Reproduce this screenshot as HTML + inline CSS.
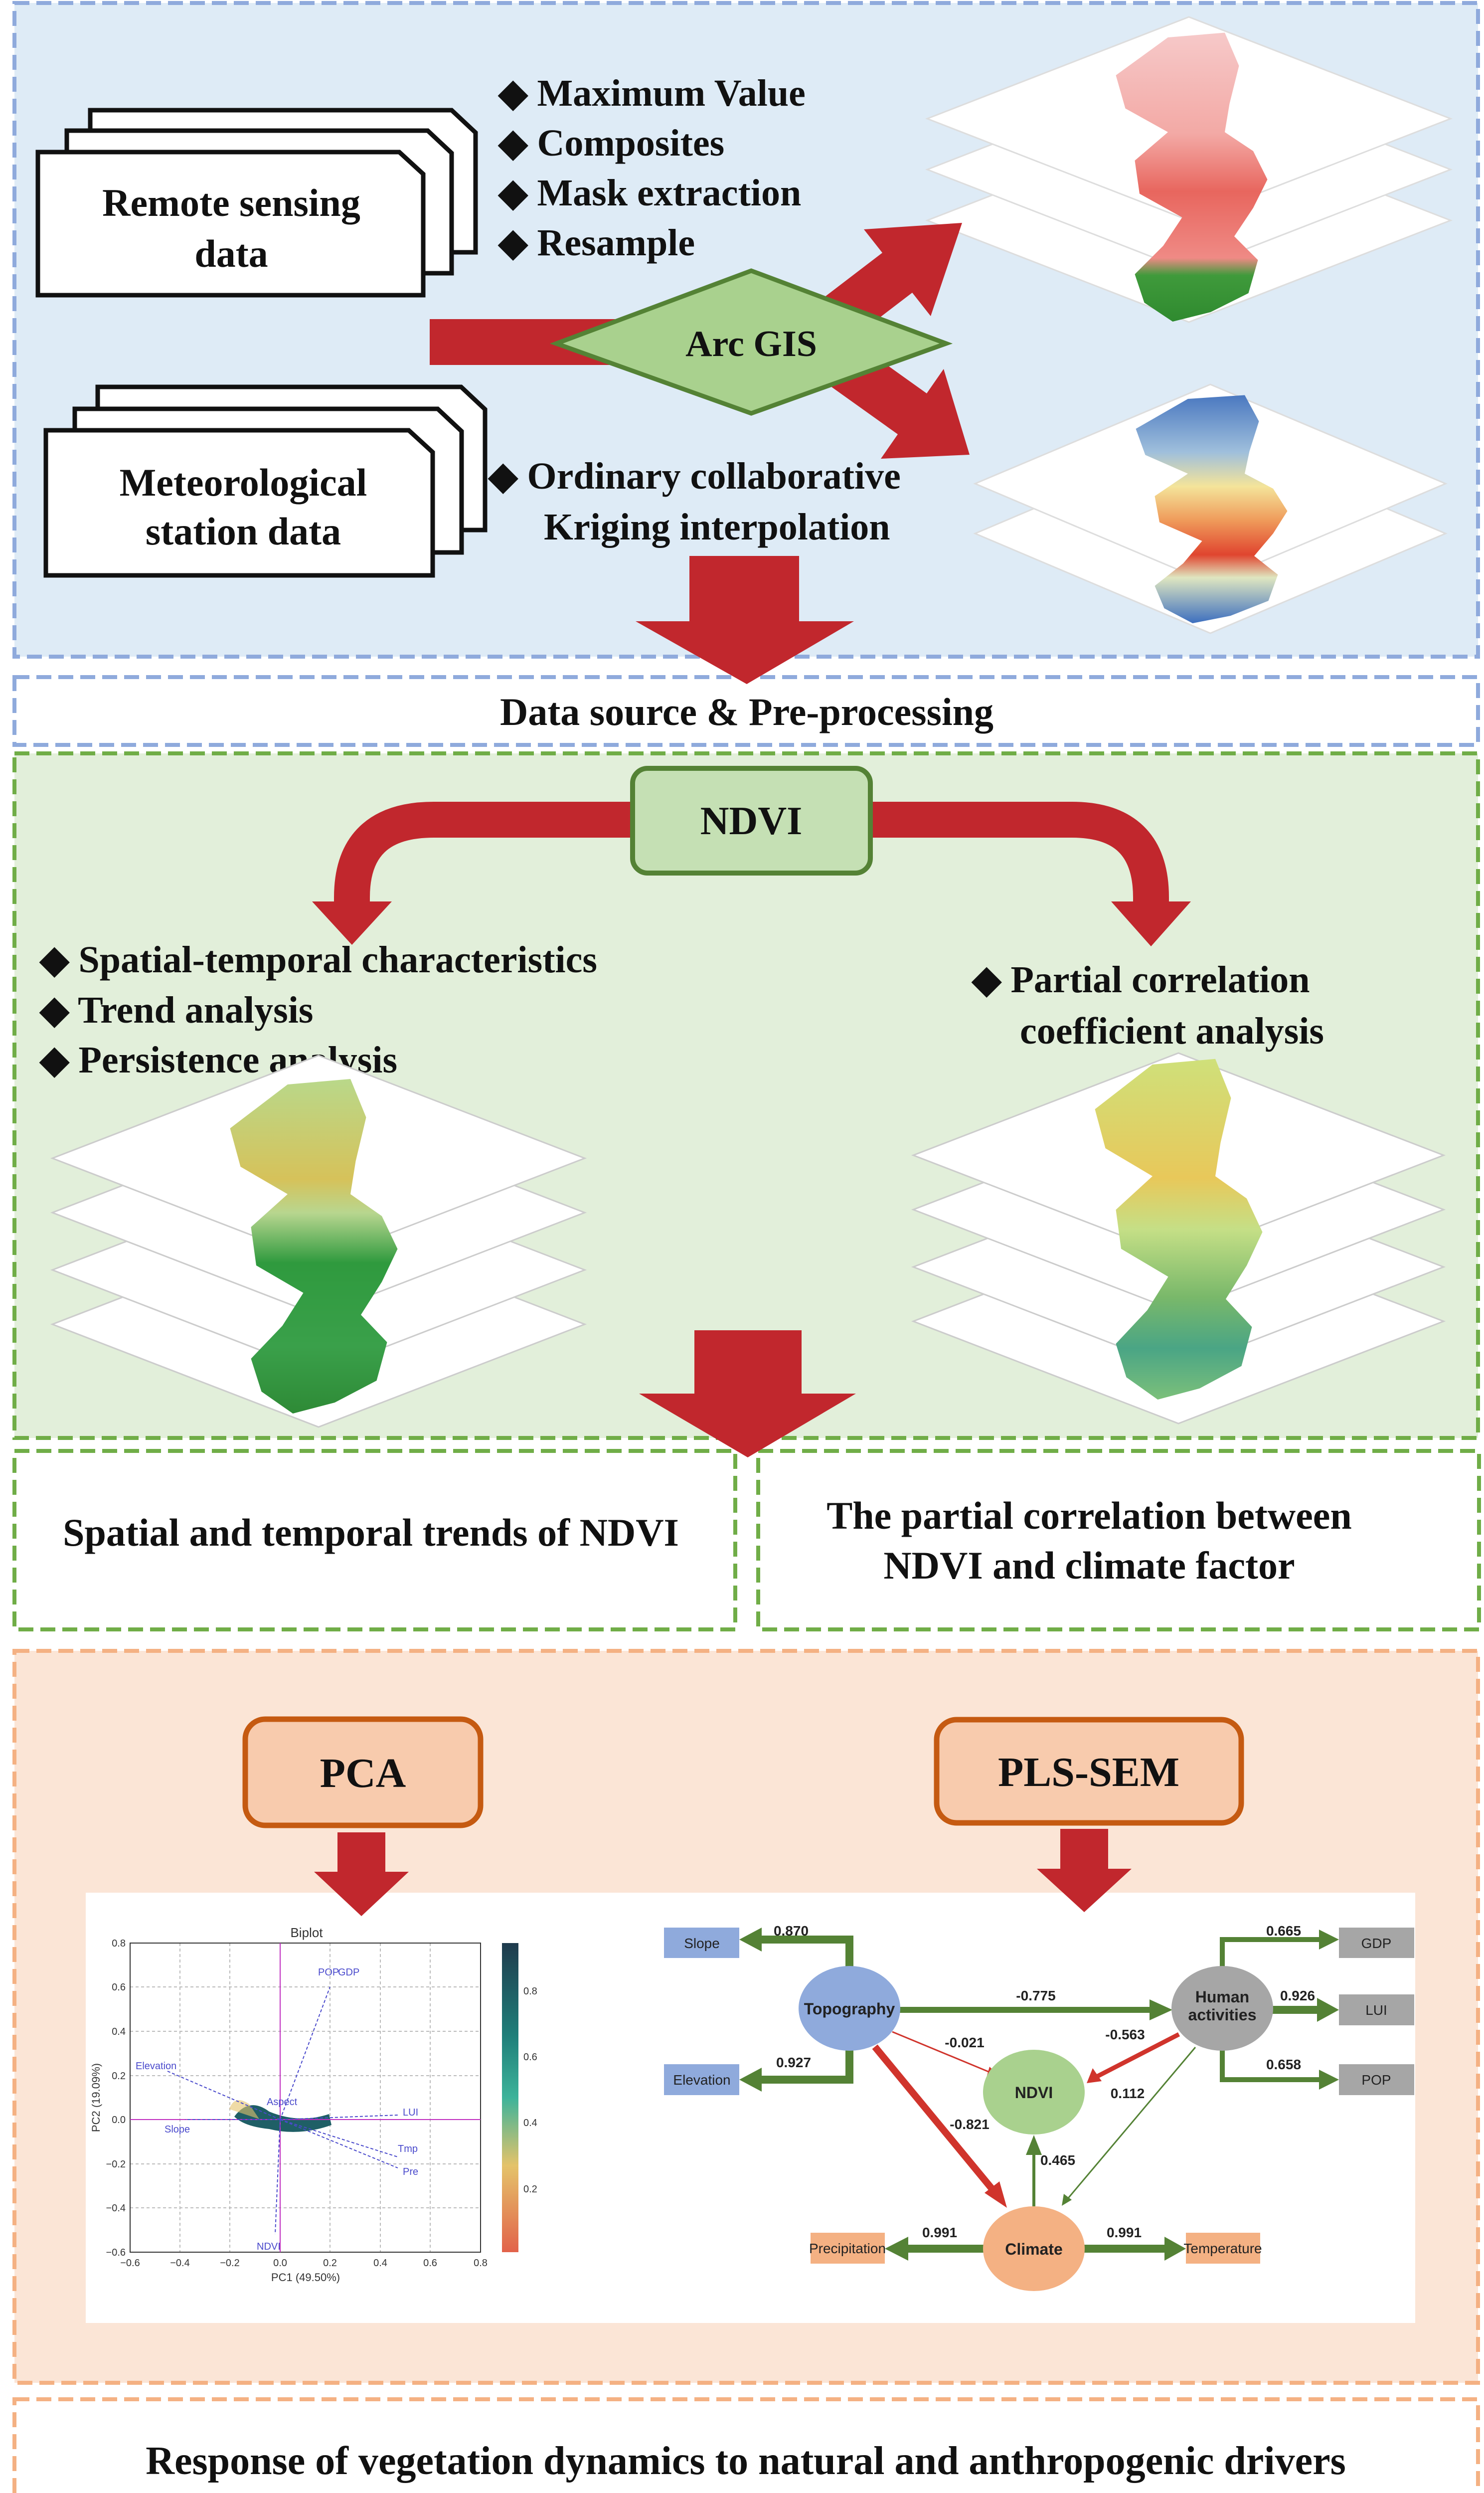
<!DOCTYPE html>
<html><head><meta charset="utf-8">
<style>
html,body{margin:0;padding:0;background:#fff;width:2977px;height:5057px;overflow:hidden;}
svg{display:block;}
.t{font-family:"Liberation Serif",serif;font-weight:bold;fill:#111;}
.s{font-family:"Liberation Sans",sans-serif;}
</style></head>
<body>
<svg width="2977" height="5057" viewBox="0 0 2977 5057" xmlns="http://www.w3.org/2000/svg">
<defs>
<linearGradient id="gPink" x1="0" y1="0" x2="0" y2="1">
<stop offset="0" stop-color="#f6c9c9"/><stop offset="0.35" stop-color="#f3a9a5"/><stop offset="0.55" stop-color="#e8665e"/><stop offset="0.78" stop-color="#ef8a85"/><stop offset="0.84" stop-color="#3f9a3b"/><stop offset="1" stop-color="#2f8a2f"/>
</linearGradient>
<linearGradient id="gTemp" x1="0" y1="0" x2="0" y2="1">
<stop offset="0" stop-color="#4a78c0"/><stop offset="0.25" stop-color="#9fbfdc"/><stop offset="0.4" stop-color="#f4e49a"/><stop offset="0.55" stop-color="#ef9a5a"/><stop offset="0.7" stop-color="#e0452f"/><stop offset="0.8" stop-color="#dfe6c0"/><stop offset="1" stop-color="#3d6fbf"/>
</linearGradient>
<linearGradient id="gVeg" x1="0" y1="0" x2="0" y2="1">
<stop offset="0" stop-color="#b9d88a"/><stop offset="0.3" stop-color="#d6c25a"/><stop offset="0.4" stop-color="#b8d68f"/><stop offset="0.55" stop-color="#2f9a3e"/><stop offset="0.8" stop-color="#3aa04a"/><stop offset="1" stop-color="#2e8a36"/>
</linearGradient>
<linearGradient id="gPcc" x1="0" y1="0" x2="0" y2="1">
<stop offset="0" stop-color="#cfe07a"/><stop offset="0.35" stop-color="#e8c85a"/><stop offset="0.5" stop-color="#c5df86"/><stop offset="0.7" stop-color="#79b86a"/><stop offset="0.85" stop-color="#4aa585"/><stop offset="1" stop-color="#7cc07a"/>
</linearGradient>
<linearGradient id="gCb" x1="0" y1="0" x2="0" y2="1">
<stop offset="0" stop-color="#1f3b4d"/><stop offset="0.3" stop-color="#1f7f7a"/><stop offset="0.5" stop-color="#3db39a"/><stop offset="0.72" stop-color="#e4c36a"/><stop offset="1" stop-color="#e2624a"/>
</linearGradient>
<path id="blob" d="M-60,0 L60,-10 L90,60 L70,140 L60,200 L120,240 L150,300 L120,360 L80,420 L130,470 L110,540 L30,580 L-50,600 L-110,560 L-130,500 L-70,440 L-30,380 L-120,330 L-130,260 L-60,200 L-150,150 L-170,80 Z"/>
</defs>

<rect x="29" y="6" width="2936" height="1311" fill="#deebf6" stroke="#8faadc" stroke-width="8" stroke-dasharray="30 14"/>

<g fill="#fff" stroke="#111" stroke-width="9">
<polygon points="181,221 906,221 954,266 954,506 181,506"/>
<polygon points="134,262 858,262 906,307 906,548 134,548"/>
<polygon points="76,305 801,305 849,349 849,592 76,592"/>
<polygon points="196,776 925,776 973,821 973,1063 196,1063"/>
<polygon points="150,820 878,820 926,865 926,1108 150,1108"/>
<polygon points="92,863 820,863 868,907 868,1154 92,1154"/>
</g>
<text class="t" font-size="78" text-anchor="middle" x="464" y="433">Remote sensing</text>
<text class="t" font-size="78" text-anchor="middle" x="464" y="535">data</text>
<text class="t" font-size="78" text-anchor="middle" x="488" y="994">Meteorological</text>
<text class="t" font-size="78" text-anchor="middle" x="488" y="1092">station data</text>

<g class="t" font-size="76">
<text x="1000" y="212">◆ Maximum Value</text>
<text x="1000" y="312">◆ Composites</text>
<text x="1000" y="412">◆ Mask extraction</text>
<text x="1000" y="512">◆ Resample</text>
<text x="980" y="980">◆ Ordinary collaborative</text>
<text x="1091" y="1082">Kriging interpolation</text>
</g>

<g stroke="#ddd" stroke-width="3" fill="#fff">
<polygon points="1860,442 2385,238 2910,442 2385,646"/>
<polygon points="1860,340 2385,136 2910,340 2385,544"/>
<polygon points="1860,238 2385,34 2910,238 2385,442"/>
</g>
<use href="#blob" transform="translate(2400,75) scale(0.95,0.95)" fill="url(#gPink)"/>
<g stroke="#ddd" stroke-width="3" fill="#fff">
<polygon points="1956,1070 2428,870 2900,1070 2428,1270"/>
<polygon points="1956,970 2428,771 2900,970 2428,1170"/>
</g>
<use href="#blob" transform="translate(2440,800) scale(0.95,0.75)" fill="url(#gTemp)"/>

<g fill="#c1272d">
<rect x="862" y="640" width="400" height="92"/>
<polygon points="1630,740 1830,587 1867,634 1930,447 1733,460 1770,507 1570,660"/>
<polygon points="1591,721 1801,871 1767,920 1945,912 1893,740 1859,789 1649,639"/>
</g>
<polygon points="1116,689 1507,543 1898,689 1507,829" fill="#a9d18e" stroke="#548235" stroke-width="9"/>
<text class="t" font-size="74" text-anchor="middle" x="1507" y="714">Arc GIS</text>

<rect x="29" y="1358" width="2936" height="136" fill="#fff" stroke="#8faadc" stroke-width="8" stroke-dasharray="30 14"/>
<text class="t" font-size="78" text-anchor="middle" x="1498" y="1454">Data source &amp;  Pre-processing</text>
<polygon fill="#c1272d" points="1383,1115 1603,1115 1603,1246 1713,1246 1498,1372 1275,1246 1383,1246"/>

<rect x="29" y="1511" width="2936" height="1373" fill="#e2efda" stroke="#70ad47" stroke-width="8" stroke-dasharray="30 14"/>
<g fill="none" stroke="#c1272d" stroke-width="72">
<path d="M1290,1644 H870 Q706,1644 706,1800 V1812"/>
<path d="M1730,1644 H2150 Q2309,1644 2309,1800 V1812"/>
</g>
<g fill="#c1272d">
<polygon points="626,1808 786,1808 706,1895"/>
<polygon points="2229,1808 2389,1808 2309,1898"/>
</g>
<rect x="1269" y="1541" width="477" height="210" rx="30" fill="#c5e0b4" stroke="#548235" stroke-width="10"/>
<text class="t" font-size="80" text-anchor="middle" x="1507" y="1673">NDVI</text>

<g class="t" font-size="76">
<text x="80" y="1950">◆ Spatial-temporal characteristics</text>
<text x="80" y="2051">◆ Trend analysis</text>
<text x="80" y="2151">◆ Persistence analysis</text>
<text x="1950" y="1990">◆ Partial correlation</text>
<text x="2046" y="2093">coefficient analysis</text>
</g>

<g stroke="#ccc" stroke-width="3" fill="#fff">
<polygon points="105,2656 639,2450 1173,2656 639,2862"/>
<polygon points="105,2547 639,2341 1173,2547 639,2753"/>
<polygon points="105,2432 639,2226 1173,2432 639,2638"/>
<polygon points="105,2323 639,2117 1173,2323 639,2529"/>
</g>
<use href="#blob" transform="translate(640,2175) scale(1.05,1.1)" fill="url(#gVeg)"/>
<g stroke="#ccc" stroke-width="3" fill="#fff">
<polygon points="1832,2650 2364,2445 2896,2650 2364,2855"/>
<polygon points="1832,2541 2364,2336 2896,2541 2364,2746"/>
<polygon points="1832,2426 2364,2221 2896,2426 2364,2631"/>
<polygon points="1832,2317 2364,2112 2896,2317 2364,2522"/>
</g>
<use href="#blob" transform="translate(2375,2135) scale(1.05,1.12)" fill="url(#gPcc)"/>

<rect x="29" y="2910" width="1446" height="358" fill="#fff" stroke="#70ad47" stroke-width="8" stroke-dasharray="30 14"/>
<rect x="1521" y="2910" width="1446" height="358" fill="#fff" stroke="#70ad47" stroke-width="8" stroke-dasharray="30 14"/>
<polygon fill="#c1272d" points="1393,2668 1608,2668 1608,2795 1717,2795 1500,2923 1282,2795 1393,2795"/>
<text class="t" font-size="78" text-anchor="middle" x="744" y="3100">Spatial and temporal trends of NDVI</text>
<text class="t" font-size="78" text-anchor="middle" x="2185" y="3066">The partial correlation between</text>
<text class="t" font-size="78" text-anchor="middle" x="2185" y="3166">NDVI and climate factor</text>

<rect x="29" y="3311" width="2936" height="1468" fill="#fbe5d6" stroke="#f4b183" stroke-width="8" stroke-dasharray="30 14"/>
<rect x="492" y="3448" width="472" height="213" rx="40" fill="#f8cbad" stroke="#c55a11" stroke-width="11"/>
<text class="t" font-size="84" text-anchor="middle" x="728" y="3584">PCA</text>
<rect x="1879" y="3449" width="611" height="207" rx="40" fill="#f8cbad" stroke="#c55a11" stroke-width="11"/>
<text class="t" font-size="84" text-anchor="middle" x="2184" y="3582">PLS-SEM</text>

<rect x="172" y="3796" width="2667" height="863" fill="#fff"/>
<g fill="#c1272d">
<polygon points="677,3675 773,3675 773,3754 820,3754 725,3843 630,3754 677,3754"/>
<polygon points="2127,3668 2223,3668 2223,3748 2270,3748 2175,3835 2080,3748 2127,3748"/>
</g>

<g class="s" font-size="22" fill="#333">
<text x="615" y="3885" text-anchor="middle" font-size="26">Biplot</text>
<g stroke="#bbb" stroke-width="2" stroke-dasharray="6 5">
<line x1="361" y1="3897" x2="361" y2="4517"/><line x1="461" y1="3897" x2="461" y2="4517"/><line x1="562" y1="3897" x2="562" y2="4517"/><line x1="662" y1="3897" x2="662" y2="4517"/><line x1="763" y1="3897" x2="763" y2="4517"/><line x1="863" y1="3897" x2="863" y2="4517"/>
<line x1="261" y1="3985" x2="964" y2="3985"/><line x1="261" y1="4074" x2="964" y2="4074"/><line x1="261" y1="4163" x2="964" y2="4163"/><line x1="261" y1="4340" x2="964" y2="4340"/><line x1="261" y1="4428" x2="964" y2="4428"/>
</g>
<rect x="261" y="3897" width="703" height="620" fill="none" stroke="#333" stroke-width="2"/>
<path d="M470,4245 Q500,4205 540,4235 Q600,4260 660,4240 L665,4262 Q600,4285 540,4270 Q490,4265 470,4245 Z" fill="#1f5f66"/>
<path d="M460,4230 Q470,4200 500,4220 L520,4250 Z" fill="#e4c36a" opacity="0.6"/>
<line x1="562" y1="3897" x2="562" y2="4517" stroke="#c030c0" stroke-width="2"/>
<line x1="261" y1="4251" x2="964" y2="4251" stroke="#c030c0" stroke-width="2"/>
<g stroke="#4a4acc" stroke-width="2" stroke-dasharray="6 4" fill="none">
<line x1="562" y1="4251" x2="662" y2="3985"/><line x1="562" y1="4251" x2="336" y2="4154"/><line x1="562" y1="4251" x2="798" y2="4242"/><line x1="562" y1="4251" x2="371" y2="4251"/><line x1="562" y1="4251" x2="798" y2="4326"/><line x1="562" y1="4251" x2="798" y2="4348"/><line x1="562" y1="4251" x2="552" y2="4481"/>
</g>
<g fill="#4a4acc" font-size="20">
<text x="638" y="3962">POP</text><text x="678" y="3962">GDP</text><text x="272" y="4150">Elevation</text><text x="535" y="4222">Aspect</text><text x="808" y="4243">LUI</text><text x="330" y="4277">Slope</text><text x="798" y="4316">Tmp</text><text x="808" y="4362">Pre</text><text x="515" y="4512">NDVI</text>
</g>
<g text-anchor="end" font-size="20"><text x="252" y="3904">0.8</text><text x="252" y="3992">0.6</text><text x="252" y="4081">0.4</text><text x="252" y="4170">0.2</text><text x="252" y="4258">0.0</text><text x="252" y="4347">−0.2</text><text x="252" y="4435">−0.4</text><text x="252" y="4524">−0.6</text></g>
<g text-anchor="middle" font-size="20"><text x="261" y="4545">−0.6</text><text x="361" y="4545">−0.4</text><text x="461" y="4545">−0.2</text><text x="562" y="4545">0.0</text><text x="662" y="4545">0.2</text><text x="763" y="4545">0.4</text><text x="863" y="4545">0.6</text><text x="964" y="4545">0.8</text></g>
<text x="613" y="4575" text-anchor="middle">PC1 (49.50%)</text>
<text transform="translate(200,4207) rotate(-90)" text-anchor="middle">PC2 (19.09%)</text>
<rect x="1007" y="3897" width="33" height="620" fill="url(#gCb)"/>
<g font-size="20"><text x="1050" y="4000">0.8</text><text x="1050" y="4132">0.6</text><text x="1050" y="4264">0.4</text><text x="1050" y="4397">0.2</text></g>
</g>

<g fill="none" stroke="#548235">
<path d="M1704,3946 V3890 H1525" stroke-width="16"/>
<path d="M1704,4110 V4171 H1525" stroke-width="16"/>
<path d="M2452,3946 V3890 H2650" stroke-width="10"/>
<path d="M2552,4031 H2650" stroke-width="16"/>
<path d="M2452,4110 V4171 H2650" stroke-width="10"/>
<line x1="1804" y1="4031" x2="2310" y2="4031" stroke-width="12"/>
<line x1="2074" y1="4425" x2="2074" y2="4320" stroke-width="6"/>
<line x1="2398" y1="4106" x2="2140" y2="4412" stroke-width="3"/>
<line x1="1974" y1="4510" x2="1820" y2="4510" stroke-width="16"/>
<line x1="2174" y1="4510" x2="2340" y2="4510" stroke-width="16"/>
</g>
<g fill="#548235">
<polygon points="1483,3890 1528,3866 1528,3914"/>
<polygon points="1483,4171 1528,4147 1528,4195"/>
<polygon points="2686,3890 2646,3870 2646,3910"/>
<polygon points="2686,4031 2642,4007 2642,4055"/>
<polygon points="2686,4171 2646,4151 2646,4191"/>
<polygon points="2352,4031 2306,4010 2306,4052"/>
<polygon points="2074,4282 2058,4322 2090,4322"/>
<polygon points="2130,4424 2134,4400 2150,4412"/>
<polygon points="1775,4510 1822,4486 1822,4534"/>
<polygon points="2379,4510 2336,4486 2336,4534"/>
</g>
<g stroke="#d0342c" fill="none">
<line x1="1790" y1="4075" x2="1995" y2="4160" stroke-width="3"/>
<line x1="2365" y1="4080" x2="2200" y2="4165" stroke-width="9"/>
<line x1="1755" y1="4105" x2="1990" y2="4390" stroke-width="14"/>
</g>
<g fill="#d0342c">
<polygon points="2010,4168 1985,4145 1978,4170"/>
<polygon points="2180,4178 2192,4148 2210,4174"/>
<polygon points="2020,4428 1975,4398 2005,4375"/>
</g>
<ellipse cx="1704" cy="4028" rx="102" ry="85" fill="#8faadc"/>
<ellipse cx="2452" cy="4028" rx="102" ry="85" fill="#a6a6a6"/>
<ellipse cx="2074" cy="4196" rx="102" ry="85" fill="#a9d18e"/>
<ellipse cx="2074" cy="4510" rx="102" ry="85" fill="#f4b183"/>
<rect x="1332" y="3866" width="151" height="61" fill="#8faadc"/>
<rect x="1332" y="4140" width="151" height="62" fill="#8faadc"/>
<rect x="2686" y="3866" width="151" height="61" fill="#a6a6a6"/>
<rect x="2686" y="4000" width="151" height="62" fill="#a6a6a6"/>
<rect x="2686" y="4140" width="151" height="62" fill="#a6a6a6"/>
<rect x="1626" y="4478" width="149" height="62" fill="#f4b183"/>
<rect x="2379" y="4478" width="149" height="62" fill="#f4b183"/>
<g class="s" font-weight="bold" fill="#222" text-anchor="middle" font-size="32">
<text x="1704" y="4040">Topography</text>
<text x="2452" y="4016">Human</text><text x="2452" y="4052">activities</text>
<text x="2074" y="4208">NDVI</text>
<text x="2074" y="4522">Climate</text>
</g>
<g class="s" fill="#222" text-anchor="middle" font-size="28">
<text x="1408" y="3907">Slope</text><text x="1408" y="4181">Elevation</text>
<text x="2761" y="3907">GDP</text><text x="2761" y="4041">LUI</text><text x="2761" y="4181">POP</text>
<text x="1700" y="4519">Precipitation</text><text x="2453" y="4519">Temperature</text>
</g>
<g class="s" font-weight="bold" fill="#222" text-anchor="middle" font-size="28">
<text x="1587" y="3882">0.870</text><text x="1592" y="4146">0.927</text>
<text x="2078" y="4012">-0.775</text><text x="1935" y="4106">-0.021</text><text x="2257" y="4090">-0.563</text>
<text x="2262" y="4208">0.112</text><text x="1945" y="4270">-0.821</text><text x="2122" y="4342">0.465</text>
<text x="1885" y="4487">0.991</text><text x="2255" y="4487">0.991</text>
<text x="2575" y="3882">0.665</text><text x="2603" y="4012">0.926</text><text x="2575" y="4150">0.658</text>
</g>

<rect x="29" y="4812" width="2936" height="238" fill="#fff" stroke="#f4b183" stroke-width="8" stroke-dasharray="30 14"/>
<text class="t" font-size="80" text-anchor="middle" x="1496" y="4962">Response of vegetation dynamics to natural and anthropogenic drivers</text>
</svg>
</body></html>
